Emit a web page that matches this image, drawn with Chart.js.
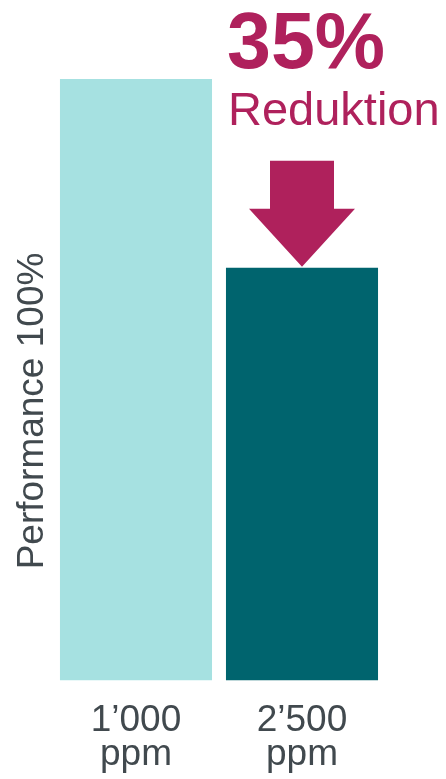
<!DOCTYPE html>
<html lang="de">
<head>
  <meta charset="UTF-8" />
  <title>Performance Reduktion</title>
  <script src="https://cdn.jsdelivr.net/npm/chart.js"></script>
  <style>
    html, body {
      margin: 0;
      padding: 0;
      background: #fff;
    }
    #wrap {
      width: 446px;
      height: 779px;
    }
  </style>
</head>
<body>
  <div id="wrap">
    <canvas id="perfChart"></canvas>
  </div>

  <script>
    const categories = [["1’000", "ppm"], ["2’500", "ppm"]];
    const performance = [100, 68.6];
    const barColors = ["#a6e1e1", "#00646e"];
    const axisTitle = "Performance 100%";
    const reductionValue = "35%";
    const reductionLabel = "Reduktion";

    const textGray = "#41494e";
    const magenta = "#af215c";
    const fontFamily = "'Liberation Sans', Arial, sans-serif";

    // Beschriftung, Pfeil und Achsentitel
    const overlay = {
      id: "overlay",
      afterDatasetsDraw(chart) {
        const ctx = chart.ctx;
        const x = chart.scales.x;
        const y = chart.scales.y;

        // Achsentitel (gedreht)
        ctx.save();
        ctx.translate(43, 411);
        ctx.rotate(-Math.PI / 2);
        ctx.fillStyle = textGray;
        ctx.font = "37px " + fontFamily;
        ctx.textAlign = "center";
        ctx.textBaseline = "alphabetic";
        ctx.fillText(axisTitle, 0, 0);
        ctx.restore();

        // 35% Reduktion
        ctx.save();
        ctx.fillStyle = magenta;
        ctx.textAlign = "left";
        ctx.textBaseline = "alphabetic";
        ctx.font = "bold 79px " + fontFamily;
        ctx.fillText(reductionValue, 227, 68);
        ctx.font = "47px " + fontFamily;
        ctx.fillText(reductionLabel, 228, 125);

        // Pfeil auf den zweiten Balken
        const cx = x.getPixelForValue(1);
        const tip = y.getPixelForValue(performance[1]) - 1;
        ctx.beginPath();
        ctx.moveTo(cx - 32, tip - 106);
        ctx.lineTo(cx + 32, tip - 106);
        ctx.lineTo(cx + 32, tip - 58);
        ctx.lineTo(cx + 53, tip - 58);
        ctx.lineTo(cx, tip);
        ctx.lineTo(cx - 53, tip - 58);
        ctx.lineTo(cx - 32, tip - 58);
        ctx.closePath();
        ctx.fill();
        ctx.restore();
      }
    };

    new Chart(document.getElementById("perfChart"), {
      type: "bar",
      data: {
        labels: categories,
        datasets: [{
          data: performance,
          backgroundColor: barColors,
          borderWidth: 0,
          barPercentage: 1,
          categoryPercentage: 0.916
        }]
      },
      options: {
        responsive: true,
        maintainAspectRatio: false,
        animation: false,
        layout: {
          padding: { top: 79, left: 53, right: 61, bottom: -16 }
        },
        plugins: {
          legend: { display: false },
          tooltip: { enabled: false }
        },
        scales: {
          x: {
            grid: { display: false, drawTicks: false },
            border: { display: false },
            ticks: {
              color: textGray,
              padding: 24,
              font: { family: fontFamily, size: 37, lineHeight: 0.9 }
            }
          },
          y: {
            display: false,
            min: 0,
            max: 100
          }
        }
      },
      plugins: [overlay]
    });
  </script>
</body>
</html>
